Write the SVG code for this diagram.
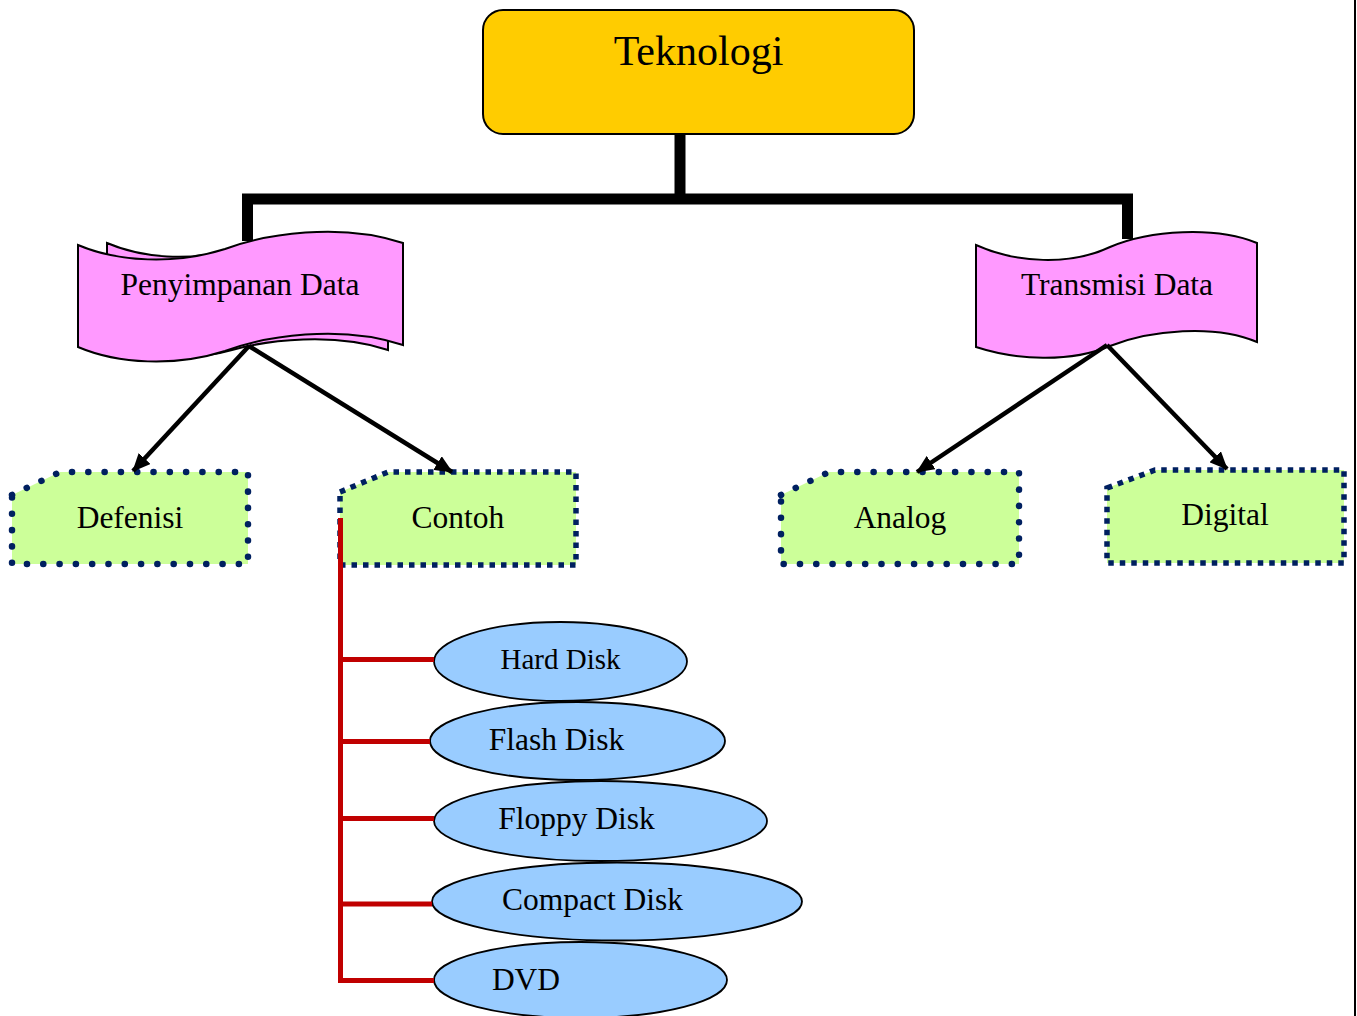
<svg xmlns="http://www.w3.org/2000/svg" width="1357" height="1016" viewBox="0 0 1357 1016">
  <defs>
    <marker id="arrow" markerUnits="userSpaceOnUse" markerWidth="18" markerHeight="16" refX="17" refY="8" orient="auto">
      <path d="M0,0 L18,8 L0,16 Z" fill="#000"/>
    </marker>
    <style>
      text { font-family: "Liberation Serif", "Times New Roman", serif; fill: #000; text-anchor: middle; }
      .lbl { font-size: 31.5px; }
      .root { fill: #FFCC00; stroke: #000; stroke-width: 2; }
      .banner { fill: #FF99FF; stroke: #000; stroke-width: 2; }
      .box { fill: #CCFF99; stroke: #002060; }
      .round { stroke-width: 6.5; stroke-dasharray: 0.1 16.2; stroke-linecap: round; stroke-linejoin: round; }
      .square { stroke-width: 5.5; stroke-dasharray: 5.5 6; stroke-linecap: butt; }
      .disk { fill: #99CCFF; stroke: #000; stroke-width: 1.8; }
      .trunk { stroke: #000; stroke-width: 11; fill: none; }
      .arrow { stroke: #000; stroke-width: 4.5; fill: none; marker-end: url(#arrow); }
      .red { stroke: #C00000; stroke-width: 5; fill: none; }
    </style>
  </defs>

  <rect width="1357" height="1016" fill="#fff"/>
  <line x1="1355" y1="0" x2="1355" y2="1016" stroke="#000" stroke-width="2"/>

  <!-- root -->
  <g id="teknologi">
    <rect class="root" x="483" y="10" width="431" height="124" rx="20"/>
    <text x="698.5" y="65" style="font-size:42px">Teknologi</text>
  </g>

  <!-- wave banners -->
  <g id="penyimpanan-data">
    <path class="banner" d="M107,243 C142,258 190,262 232,249 C268,236 334,226 388,244 L388,350 C334,332 268,340 232,350 C190,362 142,356 107,342 Z"/>
    <path class="banner" d="M78,245 C118,262 175,265 225,249 C265,234 340,222 403,243 L403,345 C340,324 265,336 225,351 C175,367 118,364 78,347 Z"/>
    <text class="lbl" x="240" y="295">Penyimpanan Data</text>
  </g>
  <g id="transmisi-data">
    <path class="banner" d="M976,245 C1016,263 1070,266 1110,247 C1150,230 1215,226 1257,243 L1257,342 C1215,324 1150,330 1110,346 C1070,363 1016,360 976,347 Z"/>
    <text class="lbl" x="1117" y="295">Transmisi Data</text>
  </g>

  <!-- category boxes with cut corner -->
  <g id="defenisi">
    <path class="box round" d="M12,495 L60,472 L248,472 L248,564 L12,564 Z"/>
    <text class="lbl" x="130" y="528">Defenisi</text>
  </g>
  <g id="contoh">
    <path class="box square" d="M340,492 L388,472 L576,472 L576,565 L340,565 Z"/>
    <text class="lbl" x="458" y="528">Contoh</text>
  </g>
  <g id="analog">
    <path class="box round" d="M781,495 L829,472 L1019,472 L1019,564 L781,564 Z"/>
    <text class="lbl" x="900" y="528">Analog</text>
  </g>
  <g id="digital">
    <path class="box square" d="M1107,488 L1155,470 L1344,470 L1344,563 L1107,563 Z"/>
    <text class="lbl" x="1225" y="525">Digital</text>
  </g>

  <!-- storage media -->
  <g id="hard-disk">
    <ellipse class="disk" cx="560.5" cy="661.5" rx="126.5" ry="39.5"/>
    <text x="560.5" y="669" style="font-size:29px">Hard Disk</text>
  </g>
  <g id="flash-disk">
    <ellipse class="disk" cx="577.5" cy="741" rx="147.5" ry="39"/>
    <text class="lbl" x="556.5" y="749.5">Flash Disk</text>
  </g>
  <g id="floppy-disk">
    <ellipse class="disk" cx="600.5" cy="821" rx="166.5" ry="40"/>
    <text class="lbl" x="576.5" y="828.5">Floppy Disk</text>
  </g>
  <g id="compact-disk">
    <ellipse class="disk" cx="617" cy="901.5" rx="185" ry="39"/>
    <text class="lbl" x="592.5" y="910">Compact Disk</text>
  </g>
  <g id="dvd">
    <ellipse class="disk" cx="580.5" cy="980" rx="146.5" ry="38"/>
    <text class="lbl" x="526" y="989.5">DVD</text>
  </g>

  <!-- connectors -->
  <g id="connectors">
    <path class="trunk" d="M680,134 V199"/>
    <path class="trunk" d="M242,199 H1133"/>
    <path class="trunk" d="M247.5,194 V241"/>
    <path class="trunk" d="M1127.5,194 V239"/>

    <line class="arrow" x1="249" y1="346" x2="133" y2="471"/>
    <line class="arrow" x1="249" y1="346" x2="452" y2="472"/>
    <line class="arrow" x1="1107" y1="345" x2="917" y2="472"/>
    <line class="arrow" x1="1107" y1="345" x2="1227" y2="469"/>

    <path class="red" d="M340.5,518 V983"/>
    <path class="red" d="M338,659.5 H434"/>
    <path class="red" d="M338,741.5 H430"/>
    <path class="red" d="M338,818.5 H434"/>
    <path class="red" d="M338,904 H432"/>
    <path class="red" d="M338,980.5 H434"/>
  </g>
</svg>
